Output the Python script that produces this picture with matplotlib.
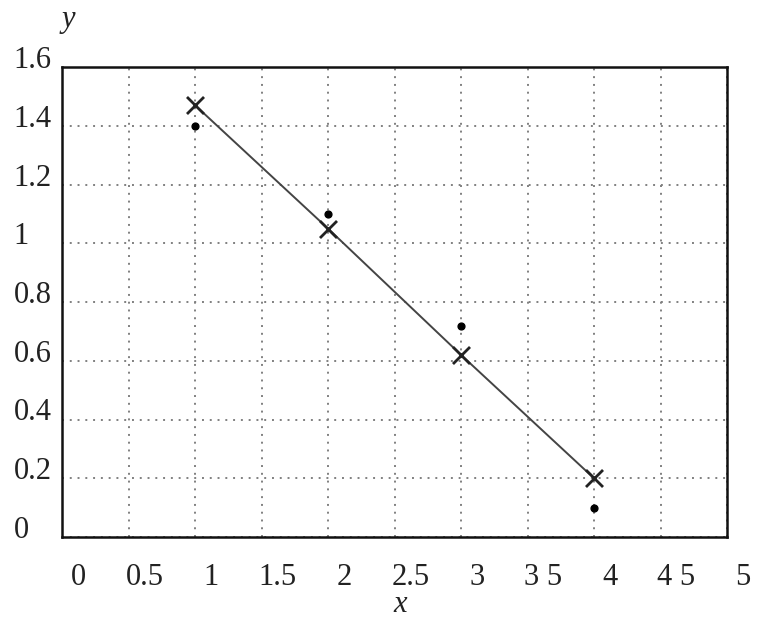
import matplotlib
matplotlib.use("Agg")
import matplotlib.pyplot as plt
import matplotlib.transforms as mtrans

# data
x_pts = [1, 2, 3, 4]
y_dots = [1.40, 1.10, 0.72, 0.10]
y_cross = [1.47, 1.05, 0.62, 0.20]
x_ticks = [0, 0.5, 1, 1.5, 2, 2.5, 3, 3.5, 4, 4.5, 5]
x_ticklabels = ["0", "0.5", "1", "1.5", "2", "2.5", "3", "3 5", "4", "4 5", "5"]
y_ticks = [0, 0.2, 0.4, 0.6, 0.8, 1, 1.2, 1.4, 1.6]
y_ticklabels = ["0", "0.2", "0.4", "0.6", "0.8", "1", "1.2", "1.4", "1.6"]

plt.rcParams['font.family'] = ['Liberation Serif', 'DejaVu Serif']

fig = plt.figure(figsize=(7.68, 6.29), dpi=100)
ax = fig.add_axes([62/768, 1-537/629, (727-62)/768, (537-67)/629])

ax.set_xlim(0, 5)
ax.set_ylim(0, 1.6)
ax.set_xticks(x_ticks)
ax.set_xticklabels(x_ticklabels)
ax.set_yticks(y_ticks)
ax.set_yticklabels(y_ticklabels)

ax.grid(True, color='#808080', linestyle=(0, (1, 3)), linewidth=1.4)
ax.set_axisbelow(True)

ax.plot(x_pts, y_cross, color='#444444', linewidth=1.4, zorder=3)
ax.scatter(x_pts, y_cross, marker='x', s=150, color='#222222', linewidths=2.0, zorder=4)
ax.scatter(x_pts, y_dots, marker='o', s=24, color='black', zorder=4)

for s in ax.spines.values():
    s.set_linewidth(1.8)
    s.set_color('#111111')

ax.tick_params(axis='both', length=0, labelsize=22, colors='#222222')
ax.tick_params(axis='x', pad=19)
ax.tick_params(axis='y', pad=35)

offx = mtrans.ScaledTranslation(0.16, 0, fig.dpi_scale_trans)
for lab in ax.get_xticklabels():
    lab.set_transform(lab.get_transform() + offx)
offy = mtrans.ScaledTranslation(0, 0.10, fig.dpi_scale_trans)
for lab in ax.get_yticklabels():
    lab.set_horizontalalignment('left')
    lab.set_transform(lab.get_transform() + offy)

fig.text(68/768, 1-20/629, 'y', fontsize=22, style='italic', ha='center', va='center', color='#222222')
fig.text(400/768, 1-605/629, 'x', fontsize=22, style='italic', ha='center', va='center', color='#222222')

fig.savefig('out.png', dpi=100)
